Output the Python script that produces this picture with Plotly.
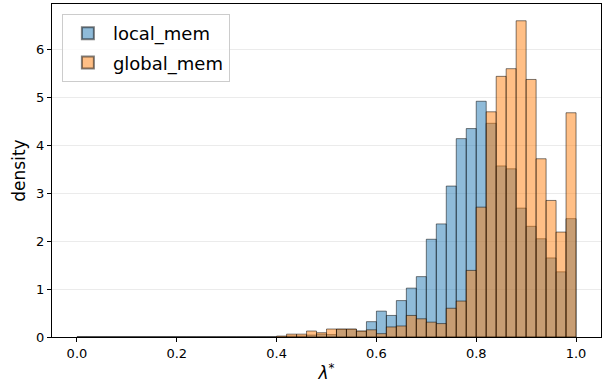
import numpy as np
import plotly.graph_objects as go

bin_edges = [round(i * 0.02, 2) for i in range(51)]
bin_centers = [round(i * 0.02 + 0.01, 3) for i in range(50)]

# densities per bin (0.00-0.40 all zero)
local_mem = [0.0] * 20 + [
    0.0, 0.02, 0.02, 0.04, 0.06, 0.05, 0.16, 0.16, 0.12, 0.32,
    0.54, 0.45, 0.76, 1.02, 1.26, 2.04, 2.36, 3.15, 4.14, 4.35,
    4.92, 4.46, 3.57, 3.51, 2.69, 2.31, 2.05, 1.65, 1.36, 2.47,
]
global_mem = [0.0] * 20 + [
    0.02, 0.06, 0.06, 0.125, 0.09, 0.167, 0.167, 0.167, 0.125, 0.15,
    0.07, 0.21, 0.23, 0.45, 0.38, 0.31, 0.28, 0.60, 0.75, 1.39,
    2.71, 4.70, 5.44, 5.60, 6.60, 5.375, 3.72, 2.85, 2.19, 4.68,
]

x_ticks = [0.0, 0.2, 0.4, 0.6, 0.8, 1.0]
x_ticklabels = ["0.0", "0.2", "0.4", "0.6", "0.8", "1.0"]
y_ticks = [0, 1, 2, 3, 4, 5, 6]

FONT = "DejaVu Sans"

fig = go.Figure()
fig.add_trace(go.Bar(
    x=bin_centers, y=local_mem, width=0.02, name="local_mem",
    legendgroup="a",
    marker=dict(color="rgba(31,119,180,0.5)",
                line=dict(color="rgba(0,0,0,0.5)", width=1)),
))
fig.add_trace(go.Bar(
    x=bin_centers, y=global_mem, width=0.02, name="global_mem",
    legendgroup="b",
    marker=dict(color="rgba(255,127,14,0.5)",
                line=dict(color="rgba(0,0,0,0.5)", width=1)),
))

fig.update_layout(
    width=602, height=383,
    margin=dict(l=52, r=1, t=4, b=46),
    barmode="overlay",
    plot_bgcolor="white", paper_bgcolor="white",
    font=dict(family=FONT, size=13, color="black"),
    showlegend=True,
    legend=dict(
        x=0.018, y=0.97, xanchor="left", yanchor="top",
        bgcolor="rgba(255,255,255,0.8)", bordercolor="#cccccc", borderwidth=1,
        font=dict(family=FONT, size=18),
        itemsizing="constant", itemwidth=40, tracegroupgap=3,
    ),
    xaxis=dict(
        range=[-0.05, 1.05],
        tickvals=x_ticks, ticktext=x_ticklabels,
        ticks="outside", ticklen=4, tickwidth=1, tickcolor="black",
        showline=True, linecolor="black", linewidth=1, mirror=True,
        showgrid=False, zeroline=False,
        title=dict(text="<i>λ</i><sup>*</sup>", font=dict(family=FONT, size=17), standoff=7),
        tickfont=dict(family=FONT, size=13),
    ),
    yaxis=dict(
        range=[0, 6.95],
        tickvals=y_ticks,
        ticks="outside", ticklen=4, tickwidth=1, tickcolor="black",
        showline=True, linecolor="black", linewidth=1, mirror=True,
        showgrid=True, gridcolor="rgba(176,176,176,0.25)", gridwidth=1,
        zeroline=False,
        title=dict(text="density", font=dict(family=FONT, size=17), standoff=6),
        tickfont=dict(family=FONT, size=13),
    ),
)

fig.write_html("out.html")
